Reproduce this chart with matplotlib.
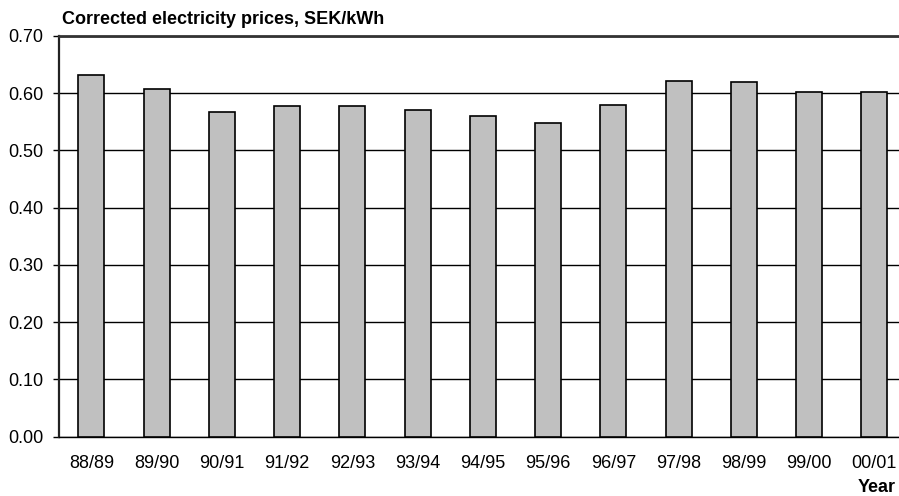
import matplotlib
matplotlib.use("Agg")
import matplotlib.pyplot as plt
from matplotlib.ticker import MultipleLocator, FormatStrFormatter
import numpy as np

years = ["88/89", "89/90", "90/91", "91/92", "92/93", "93/94", "94/95",
         "95/96", "96/97", "97/98", "98/99", "99/00", "00/01"]
prices = [0.631, 0.607, 0.567, 0.577, 0.578, 0.571, 0.561,
          0.548, 0.580, 0.621, 0.619, 0.603, 0.602]

plt.rcParams['font.family'] = ['Liberation Sans', 'DejaVu Sans']

W, H = 899, 496
fig = plt.figure(figsize=(W / 100, H / 100), dpi=100)
left, right, top, bottom = 58.7, 907.0, 36.0, 436.7
ax = fig.add_axes([left / W, 1 - bottom / H, (right - left) / W, (bottom - top) / H])

x = np.arange(len(years))
ax.bar(x, prices, width=0.4, color='#c0c0c0', edgecolor='black', linewidth=1.2, zorder=3)

ax.set_xlim(-0.5, len(years) - 0.5)
ax.set_ylim(0, 0.7)
ax.yaxis.set_major_locator(MultipleLocator(0.1))
ax.yaxis.set_major_formatter(FormatStrFormatter('%.2f'))
ax.set_xticks(x)
ax.set_xticklabels(years)

ax.grid(axis='y', color='black', linewidth=1.0, zorder=0)
ax.set_axisbelow(True)

ax.spines['right'].set_visible(False)
ax.spines['bottom'].set_linewidth(1.0)
ax.spines['bottom'].set_color('black')
ax.spines['top'].set_linewidth(2.0)
ax.spines['top'].set_color('#333333')
ax.spines['left'].set_linewidth(1.6)
ax.spines['left'].set_color('#222222')

ax.tick_params(axis='y', direction='out', length=4, width=1, pad=7, labelsize=13)
ax.tick_params(axis='x', length=0, pad=13, labelsize=13)

fig.text(61.7 / W, 1 - 19 / H, "Corrected electricity prices, SEK/kWh",
         fontsize=13, fontweight='bold', va='center', ha='left')
fig.text(895.5 / W, 1 - 488 / H, "Year", fontsize=13, fontweight='bold',
         va='center', ha='right')

fig.savefig("out.png", dpi=100)
